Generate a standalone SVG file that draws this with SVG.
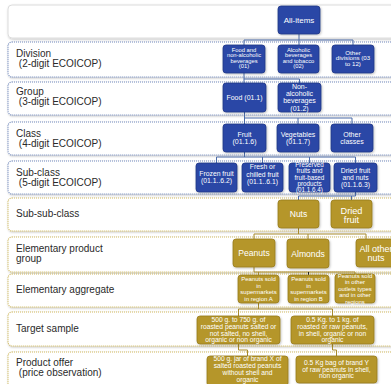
<svg xmlns="http://www.w3.org/2000/svg" width="391" height="384" viewBox="0 0 391 384">
<defs>
<filter id="sh" x="-10%" y="-10%" width="130%" height="140%"><feDropShadow dx="0.8" dy="1" stdDeviation="0.8" flood-color="#000" flood-opacity="0.25"/></filter>
</defs>
<style>
.band{fill:#fff;stroke-width:1.2;stroke-dasharray:1 1;filter:url(#sh)}
.bb{stroke:#7088bb}
.bg{stroke:#cfb85e}
.top{fill:#fff;stroke:#dcdcdc;stroke-width:1;filter:url(#sh)}
.lbl{font-family:"Liberation Sans",Arial,sans-serif;font-size:10px;fill:#2a2a2a}
.nb rect{fill:#2c46a6;stroke:#1f3585;stroke-width:0.8;filter:url(#sh)}
.ng rect{fill:#b5962b;stroke:#977b1d;stroke-width:0.8;filter:url(#sh)}
.nt{font-family:"Liberation Sans",Arial,sans-serif;fill:#fff;text-anchor:middle}
.cb{fill:none;stroke:#4a6ba8;stroke-width:1}
.cg{fill:none;stroke:#a88b2c;stroke-width:1}
</style>

<g id="bands">
<rect class="top" x="8" y="5" width="395" height="33" rx="4"/>
<rect class="band bb" x="8" y="42" width="395" height="35" rx="4"/>
<rect class="band bb" x="8" y="82" width="395" height="33" rx="4"/>
<rect class="band bb" x="8" y="122" width="395" height="33" rx="4"/>
<rect class="band bb" x="8" y="161" width="395" height="33" rx="4"/>
<rect class="band bg" x="8" y="198" width="395" height="33" rx="4"/>
<rect class="band bg" x="8" y="237" width="395" height="35" rx="4"/>
<rect class="band bg" x="8" y="274" width="395" height="33" rx="4"/>
<rect class="band bg" x="8" y="312" width="395" height="34" rx="4"/>
<rect class="band bg" x="8" y="352" width="395" height="40" rx="4"/>
</g>

<g id="labels" class="lbl">
<text x="16" y="57">Division</text><text x="18.8" y="67">(2-digit ECOICOP)</text>
<text x="16" y="95">Group</text><text x="18.8" y="105">(3-digit ECOICOP)</text>
<text x="16" y="137">Class</text><text x="18.8" y="147">(4-digit ECOICOP)</text>
<text x="16" y="176">Sub-class</text><text x="18.8" y="186">(5-digit ECOICOP)</text>
<text x="16" y="217">Sub-sub-class</text>
<text x="16" y="252">Elementary product</text><text x="16" y="262">group</text>
<text x="16" y="293">Elementary aggregate</text>
<text x="16" y="332">Target sample</text>
<text x="16" y="366">Product offer</text><text x="18.8" y="376">(price observation)</text>
</g>

<g id="connectors">
<path class="cb" d="M299 34V40M244 45V40H353V45M299 40V45"/>
<path class="cb" d="M244 73V83M244 79H299.5V83"/>
<path class="cb" d="M244.5 112V124M244.5 118H352V124M298 118V124"/>
<path class="cb" d="M244.5 152V157M216.5 163V157H355.5V163M262.5 157V163M309.5 157V163"/>
<path class="cb" d="M355.5 192V196H298.5V200M351.5 196V200"/>
<path class="cg" d="M298.5 228V234M254 239V234H366V239M308 234V239"/>
<path class="cg" d="M254 267V272M258.5 275V272M254 272H355V274"/>
<path d="M308.5 272V275" fill="none" stroke="#222" stroke-width="1"/>
<path class="cg" d="M258.5 303V309M238.5 316V309H332.5V316"/>
<path class="cg" d="M238.5 344V350H247.5V356M332.5 344V350H336.5V356"/>
</g>

<g id="all-items" class="nb"><rect x="278" y="6" width="42" height="28" rx="3"/><text class="nt" x="299" y="22.8" font-size="8">All-items</text></g>

<g id="div-01" class="nb"><rect x="223" y="45" width="42" height="28" rx="3"/><text class="nt" font-size="5.8"><tspan x="244" y="51.6">Food and</tspan><tspan x="244" y="57.1">non-alcoholic</tspan><tspan x="244" y="62.6">beverages</tspan><tspan x="244" y="68.1">(01)</tspan></text></g>
<g id="div-02" class="nb"><rect x="278" y="45" width="41" height="28" rx="3"/><text class="nt" font-size="5.8"><tspan x="298.5" y="51.6">Alcoholic</tspan><tspan x="298.5" y="57.1">beverages</tspan><tspan x="298.5" y="62.6">and tobacco</tspan><tspan x="298.5" y="68.1">(02)</tspan></text></g>
<g id="div-other" class="nb"><rect x="332" y="45" width="42" height="28" rx="3"/><text class="nt" font-size="6.2"><tspan x="353" y="54.8">Other</tspan><tspan x="353" y="60.4">divisions (03</tspan><tspan x="353" y="66.1">to 12)</tspan></text></g>

<g id="grp-011" class="nb"><rect x="223" y="83" width="43" height="29" rx="3"/><text class="nt" x="244.5" y="100" font-size="7">Food (01.1)</text></g>
<g id="grp-012" class="nb"><rect x="278" y="83" width="43" height="29" rx="3"/><text class="nt" font-size="7"><tspan x="299.5" y="89">Non-</tspan><tspan x="299.5" y="96.2">alcoholic</tspan><tspan x="299.5" y="103.4">beverages</tspan><tspan x="299.5" y="110.6">(01.2)</tspan></text></g>

<g id="cls-fruit" class="nb"><rect x="223" y="124" width="43" height="28" rx="3"/><text class="nt" font-size="7"><tspan x="244.5" y="137">Fruit</tspan><tspan x="244.5" y="144">(01.1.6)</tspan></text></g>
<g id="cls-veg" class="nb"><rect x="277" y="124" width="42" height="28" rx="3"/><text class="nt" font-size="7"><tspan x="298" y="137">Vegetables</tspan><tspan x="298" y="144">(01.1.7)</tspan></text></g>
<g id="cls-other" class="nb"><rect x="331" y="124" width="42" height="28" rx="3"/><text class="nt" font-size="7"><tspan x="352" y="137">Other</tspan><tspan x="352" y="144">classes</tspan></text></g>

<g id="sc-frozen" class="nb"><rect x="196" y="163" width="41" height="29" rx="3"/><text class="nt" font-size="6.8"><tspan x="216.5" y="176.3">Frozen fruit</tspan><tspan x="216.5" y="183.3">(01.1..6.2)</tspan></text></g>
<g id="sc-fresh" class="nb"><rect x="242" y="163" width="41" height="29" rx="3"/><text class="nt" font-size="6.8"><tspan x="262.5" y="169.3">Fresh or</tspan><tspan x="262.5" y="176.5">chilled fruit</tspan><tspan x="262.5" y="184">(01.1..6.1)</tspan></text></g>
<g id="sc-preserved" class="nb"><rect x="289" y="163" width="41" height="29" rx="3"/><text class="nt" font-size="6.3"><tspan x="309.5" y="167.2">Preserved</tspan><tspan x="309.5" y="173.4">fruits and</tspan><tspan x="309.5" y="179.6">fruit-based</tspan><tspan x="309.5" y="185.8">products</tspan><tspan x="309.5" y="192">(01.1.6.4)</tspan></text></g>
<g id="sc-dried" class="nb"><rect x="334" y="163" width="43" height="29" rx="3"/><text class="nt" font-size="6.8"><tspan x="355.5" y="173">Dried fruit</tspan><tspan x="355.5" y="179.8">and nuts</tspan><tspan x="355.5" y="186.6">(01.1.6.3)</tspan></text></g>

<g id="ssc-nuts" class="ng"><rect x="278" y="200" width="41" height="28" rx="3"/><text class="nt" x="298.5" y="217" font-size="8.5">Nuts</text></g>
<g id="ssc-dried" class="ng"><rect x="331" y="200" width="41" height="28" rx="3"/><text class="nt" font-size="9.2"><tspan x="351.5" y="213.7">Dried</tspan><tspan x="351.5" y="222.7">fruit</tspan></text></g>

<g id="epg-peanuts" class="ng"><rect x="233" y="239" width="42" height="28" rx="3"/><text class="nt" x="254" y="256" font-size="8.6">Peanuts</text></g>
<g id="epg-almonds" class="ng"><rect x="287" y="239" width="42" height="29" rx="3"/><text class="nt" x="308" y="256.5" font-size="8.6">Almonds</text></g>
<g id="epg-other" class="ng"><rect x="356" y="239" width="42" height="28" rx="3"/><text class="nt" font-size="9"><tspan x="376" y="252.2">All other</tspan><tspan x="376" y="261.2">nuts</tspan></text></g>

<g id="ea-a" class="ng"><rect x="238" y="275" width="41" height="28" rx="3"/><text class="nt" font-size="6"><tspan x="258.5" y="281.4">Peanuts sold</tspan><tspan x="258.5" y="287.8">in</tspan><tspan x="258.5" y="294.4">supermarkets</tspan><tspan x="258.5" y="301">in region A</tspan></text></g>
<g id="ea-b" class="ng"><rect x="288" y="275" width="41" height="28" rx="3"/><text class="nt" font-size="6"><tspan x="308.5" y="281.4">Peanuts sold</tspan><tspan x="308.5" y="287.8">in</tspan><tspan x="308.5" y="294.4">supermarkets</tspan><tspan x="308.5" y="301">in region B</tspan></text></g>
<g id="ea-other" class="ng"><rect x="335" y="274" width="40" height="29" rx="3"/><text class="nt" font-size="6"><tspan x="355" y="277.6">Peanuts sold</tspan><tspan x="355" y="284.1">in other</tspan><tspan x="355" y="290.6">outlets types</tspan><tspan x="355" y="297.1">and in other</tspan><tspan x="355" y="303.6">regions</tspan></text></g>

<g id="ts-1" class="ng"><rect x="197" y="316" width="83" height="28" rx="3"/><text class="nt" font-size="6.7"><tspan x="238.5" y="322.3">500 g. to 750 g. of</tspan><tspan x="238.5" y="329">roasted peanuts salted or</tspan><tspan x="238.5" y="335.6">not salted, no shell,</tspan><tspan x="238.5" y="342.3">organic or non organic</tspan></text></g>
<g id="ts-2" class="ng"><rect x="291" y="316" width="83" height="28" rx="3"/><text class="nt" font-size="6.7"><tspan x="332.5" y="322.3">0.5 Kg. to 1 kg. of</tspan><tspan x="332.5" y="329">roasted or raw peanuts,</tspan><tspan x="332.5" y="335.6">in shell, organic or non</tspan><tspan x="332.5" y="342.3">organic</tspan></text></g>

<g id="po-1" class="ng"><rect x="207" y="356" width="81" height="30" rx="3"/><text class="nt" font-size="6.7"><tspan x="247.5" y="361.3">500 g. jar of brand X of</tspan><tspan x="247.5" y="368.2">salted roasted peanuts</tspan><tspan x="247.5" y="375">without shell and</tspan><tspan x="247.5" y="381.6">organic</tspan></text></g>
<g id="po-2" class="ng"><rect x="296" y="356" width="81" height="27" rx="3"/><text class="nt" font-size="6.7"><tspan x="336.5" y="365">0.5 Kg bag of brand Y</tspan><tspan x="336.5" y="371.6">of raw peanuts in shell,</tspan><tspan x="336.5" y="378.3">non organic</tspan></text></g>
</svg>
